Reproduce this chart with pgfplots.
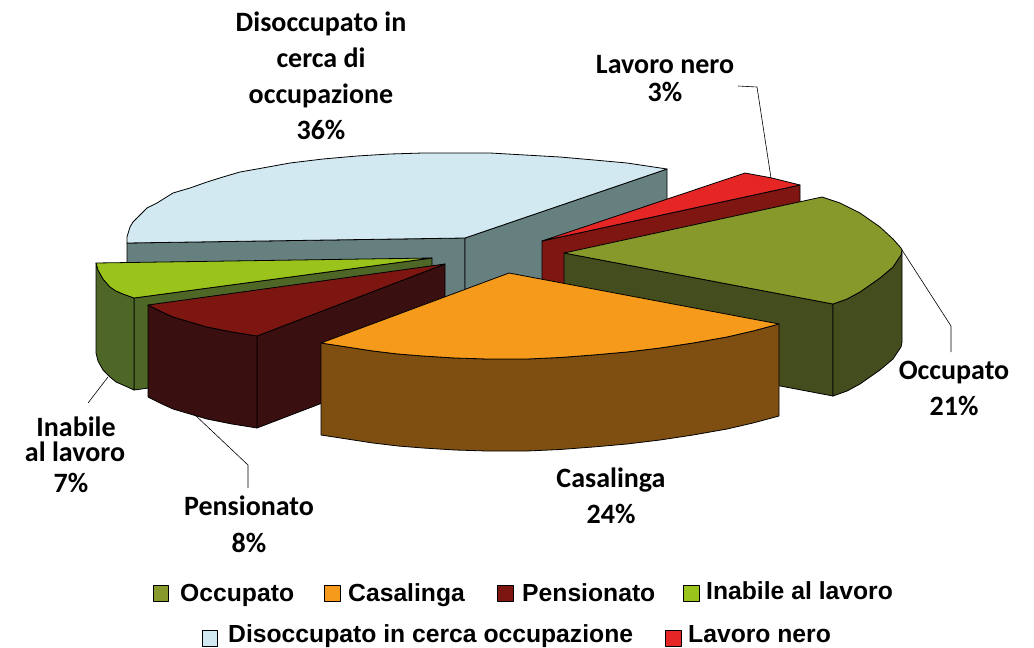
\documentclass[border=0pt]{standalone}
\usepackage{pgfplots}
\pgfplotsset{compat=1.18}
\usepackage{fontspec}
\setmainfont{Carlito}
\newfontfamily\legfont{Liberation Sans}
\definecolor{cBlue}{HTML}{D2E9F1}\definecolor{cBlueS}{HTML}{668080}
\definecolor{cOcc}{HTML}{87992A}\definecolor{cOccS}{HTML}{434D1D}
\definecolor{cCas}{HTML}{F59A1A}\definecolor{cCasS}{HTML}{7F4F12}
\definecolor{cPen}{HTML}{7D1610}\definecolor{cPenS}{HTML}{3A0F0F}
\definecolor{cIna}{HTML}{9AC41B}\definecolor{cInaS}{HTML}{4E6626}
\definecolor{cLav}{HTML}{E52625}\definecolor{cLavS}{HTML}{7F1612}
\newcommand{\lab}[3]{\node[anchor=base,inner sep=0pt,font=\fontsize{28}{30}\selectfont\bfseries] at (axis cs:#1,#2) {#3};}
\newcommand{\leg}[3]{\node[anchor=base west,inner sep=0pt,font=\legfont\fontsize{24.7}{26}\selectfont\bfseries] at (axis cs:#1,#2) {#3};}
\pgfplotsset{face/.style={fill=#1,draw=black,line width=0.8pt,line join=round},
 lead/.style={draw=black,line width=0.6pt}}
\begin{document}
\begin{tikzpicture}
\path[use as bounding box] (0,0) rectangle (1034pt,648pt);
\begin{axis}[at={(0,0)},anchor=south west,scale only axis,width=1034pt,height=648pt,xmin=0,xmax=1034,ymin=0,ymax=648,y dir=reverse,axis lines=none,clip=false]
% Disoccupato 36%
\addplot[face=cBlueS] coordinates {(127,243)(465,238)(465,330)(127,335)} --cycle;
\addplot[face=cBlueS] coordinates {(465,238)(667,169)(667,261)(465,330)} --cycle;
\addplot[face=cBlue] coordinates {(465,238)(127,243)(127,237)(130,227)(133,222)(140,215)(147,208)(157,203)(173,193)(190,188)(207,182)(223,177)(240,172)(257,169)(290,163)(323,159)(357,156)(390,154)(423,153)(456,153)(490,153)(525,155)(560,157)(594,160)(627,163)(667,169)} --cycle;
% Lavoro nero 3%
\addplot[face=cLavS] coordinates {(542,241)(800,185)(800,277)(542,333)} --cycle;
\addplot[face=cLav] coordinates {(542,241)(745,173)(772,178)(800,185)} --cycle;
% Inabile 7%
\addplot[face=cInaS] coordinates {(134,298)(432,258)(432,350)(134,390)} --cycle;
\addplot[face=cInaS] coordinates {(96,263)(98,270)(103,279)(110,287)(116,291)(123,294)(134,298)(134,390)(123,385)(116,382)(110,377)(103,370)(98,361)(96,353)} --cycle;
\addplot[face=cIna] coordinates {(432,258)(96,263)(98,270)(103,279)(110,287)(116,291)(123,294)(134,298)} --cycle;
% Pensionato 8%
\addplot[face=cPenS] coordinates {(257,336)(445,264)(445,356)(257,428)} --cycle;
\addplot[face=cPenS] coordinates {(148,305)(160,311)(173,317)(190,322)(207,327)(232,332)(257,336)(257,428)(232,424)(207,419)(190,414)(173,409)(160,403)(148,397)} --cycle;
\addplot[face=cPen] coordinates {(445,264)(148,305)(160,311)(173,317)(190,322)(207,327)(232,332)(257,336)} --cycle;
% Occupato 21%
\addplot[face=cOccS] coordinates {(564,253)(833,304)(833,396)(564,345)} --cycle;
\addplot[face=cOccS] coordinates {(833,304)(847,299)(860,292)(880,278)(893,267)(901,255)(902,250)(902,342)(901,347)(893,359)(880,370)(860,384)(847,391)(833,396)} --cycle;
\addplot[face=cOcc] coordinates {(564,253)(822,197)(840,203)(860,213)(880,227)(893,239)(901,248)(902,250)(901,255)(893,267)(880,278)(860,292)(847,299)(833,304)} --cycle;
% Casalinga 24%
\addplot[face=cCasS] coordinates {(321,343)(347,347)(373,351)(398,354)(423,356)(455,358)(487,359)(527,359)(560,357.5)(593,355)(627,352)(660,348)(693,343)(727,337)(753,331)(779,324)(779,416)(753,423)(727,429)(693,435)(660,440)(627,444)(593,447)(560,449.5)(527,451)(487,451)(455,450)(423,448)(398,446)(373,443)(347,439)(321,435)} --cycle;
\addplot[face=cCas] coordinates {(509,273)(321,343)(347,347)(373,351)(398,354)(423,356)(455,358)(487,359)(527,359)(560,357.5)(593,355)(627,352)(660,348)(693,343)(727,337)(753,331)(779,324)} --cycle;
% leader lines
\addplot[lead] coordinates {(738,86)(757,87)(771,178)};
\addplot[lead] coordinates {(902,250)(951,326)(951,352)};
\addplot[lead] coordinates {(194,414)(248,465)(248,488)};
\addplot[lead] coordinates {(108,377)(88,403)};
% data labels
\lab{321}{31}{Disoccupato in}
\lab{321}{67}{cerca di}
\lab{321}{103}{occupazione}
\lab{321}{139}{36\%}
\lab{665}{73}{Lavoro nero}
\lab{665}{101}{3\%}
\lab{954}{379}{Occupato}
\lab{954}{415}{21\%}
\lab{611}{487}{Casalinga}
\lab{611}{523}{24\%}
\lab{249}{515}{Pensionato}
\lab{249}{552}{8\%}
\lab{76}{436}{Inabile}
\lab{75}{461}{al lavoro}
\lab{71}{492}{7\%}
% legend
\addplot[face=cOcc] coordinates {(153,585)(168,585)(168,601)(153,601)} --cycle;
\addplot[face=cCas] coordinates {(324,585)(340,585)(340,601)(324,601)} --cycle;
\addplot[face=cPen] coordinates {(497,585)(513,585)(513,601)(497,601)} --cycle;
\addplot[face=cIna] coordinates {(683,585)(699,585)(699,601)(683,601)} --cycle;
\addplot[face=cBlue] coordinates {(202,630)(217,630)(217,646)(202,646)} --cycle;
\addplot[face=cLav] coordinates {(665,630)(681,630)(681,646)(665,646)} --cycle;
\leg{180}{601}{Occupato}
\leg{348}{601}{Casalinga}
\leg{522}{601}{Pensionato}
\leg{706}{599}{Inabile al lavoro}
\leg{228}{642.8}{Disoccupato in cerca occupazione}
\leg{688}{642.8}{Lavoro nero}
\end{axis}
\end{tikzpicture}
\end{document}
